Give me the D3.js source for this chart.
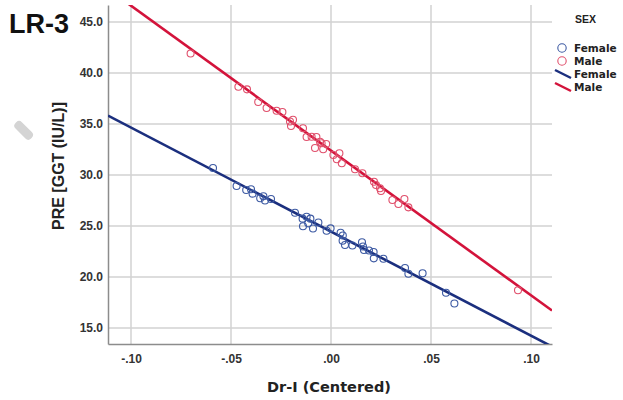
<!DOCTYPE html>
<html>
<head>
<meta charset="utf-8">
<script src="https://cdn.jsdelivr.net/npm/d3@7"></script>
<style>
  body { margin: 0; background: #fff; }
  svg { display: block; }
  .tick-label { font-family: "Liberation Sans", Arial, sans-serif; font-size: 12px; font-weight: bold; fill: #333; }
</style>
</head>
<body>
<svg width="623" height="400"></svg>
<script>
// tick values
var xTicks = [-0.10, -0.05, 0.00, 0.05, 0.10];
var yTicks = [15, 20, 25, 30, 35, 40, 45];

// Female points: [Dr-I centered, PRE GGT]
var femaleX = [-0.059, -0.0472, -0.0424, -0.040, -0.0392, -0.0354, -0.0338, -0.033, -0.030, -0.018,
               -0.0142, -0.0122, -0.0103, -0.014, -0.0114, -0.009, -0.0063, -0.0022, -0.0002, 0.0048,
               0.0059, 0.0058, 0.007, 0.0107, 0.0155, 0.016, 0.0165, 0.019, 0.0213, 0.0214,
               0.0262, 0.037, 0.0387, 0.0458, 0.0575, 0.0617];
var femaleY = [30.69, 28.92, 28.53, 28.60, 28.17, 27.72, 27.91, 27.50, 27.65, 26.30,
               25.72, 25.91, 25.72, 24.97, 25.26, 24.75, 25.34, 24.54, 24.77, 24.34,
               24.07, 23.56, 23.14, 23.09, 23.41, 22.99, 22.65, 22.60, 22.45, 21.83,
               21.79, 20.88, 20.32, 20.36, 18.46, 17.40];

// Male points
var maleX = [-0.0702, -0.0463, -0.042, -0.0364, -0.0322, -0.0272, -0.0243, -0.0205, -0.019, -0.020,
             -0.014, -0.0122, -0.0097, -0.0073, -0.0055, -0.008, -0.0047, -0.0024, -0.0039, 0.0012,
             0.0042, 0.0029, 0.0054, 0.012, 0.0157, 0.0215, 0.0225, 0.0245, 0.025, 0.0307,
             0.0337, 0.0367, 0.0387, 0.0935];
var maleY = [41.91, 38.66, 38.40, 37.16, 36.57, 36.30, 36.18, 35.25, 35.42, 34.80,
             34.58, 33.73, 33.75, 33.73, 33.26, 32.65, 33.11, 33.04, 32.52, 31.96,
             32.13, 31.54, 31.15, 30.56, 30.17, 29.34, 29.02, 28.70, 28.43, 27.55,
             27.16, 27.65, 26.83, 18.70];

// fit lines (intercept at x = 0, slope)
var femaleFit = [24.45, -102];
var maleFit = [32.4, -142];

var femaleLine = "#1b2f7e", maleLine = "#d3133b";
var femaleDot = "#3d5aa3", maleDot = "#e0506c";

var svg = d3.select("svg");
var pLeft = 108, pRight = 552, pTop = 5, pBottom = 344;

var x = d3.scaleLinear().domain([-0.1115, 0.1105]).range([pLeft, pRight]);
var y = d3.scaleLinear().domain([13.43, 46.67]).range([pBottom, pTop]);

svg.append("defs").append("clipPath").attr("id", "clip")
  .append("rect").attr("x", pLeft).attr("y", pTop).attr("width", pRight - pLeft).attr("height", pBottom - pTop);

// grid
var grid = svg.append("g");
grid.selectAll(".vg").data(xTicks).enter().append("line")
    .attr("x1", function(d) { return x(d); }).attr("x2", function(d) { return x(d); })
    .attr("y1", pTop).attr("y2", pBottom)
    .attr("stroke", "#d2d2d2").attr("stroke-width", 1.5);
grid.selectAll(".hg").data(yTicks).enter().append("line")
    .attr("x1", pLeft).attr("x2", pRight)
    .attr("y1", function(d) { return y(d); }).attr("y2", function(d) { return y(d); })
    .attr("stroke", "#d2d2d2").attr("stroke-width", 1.5);

// axes
var fmtX = function(d) { return d3.format(".2f")(d).replace("\u2212", "-").replace("0.", "."); };
var xAxis = d3.axisBottom(x).tickValues(xTicks).tickSize(0).tickPadding(10).tickFormat(fmtX);
var yAxis = d3.axisLeft(y).tickValues(yTicks).tickSize(0).tickPadding(5).tickFormat(d3.format(".1f"));

var gx = svg.append("g").attr("transform", "translate(0," + pBottom + ")").call(xAxis);
var gy = svg.append("g").attr("transform", "translate(" + pLeft + ",0)").call(yAxis);
[gx, gy].forEach(function(g) {
  g.select(".domain").attr("stroke", "#8c8c8c").attr("stroke-width", 1.5);
  g.selectAll("text").attr("class", "tick-label").attr("fill", "#333");
});

// fit lines
var plot = svg.append("g").attr("clip-path", "url(#clip)");
var lineGen = d3.line().x(function(d) { return x(d[0]); }).y(function(d) { return y(d[1]); });
[[femaleFit, femaleLine], [maleFit, maleLine]].forEach(function(f) {
  var pts = x.domain().map(function(v) { return [v, f[0][0] + f[0][1] * v]; });
  plot.append("path").datum(pts).attr("d", lineGen)
      .attr("fill", "none").attr("stroke", f[1]).attr("stroke-width", 2.6);
});

// points
function dots(xs, ys, col) {
  plot.selectAll(null).data(xs.map(function(v, i) { return [v, ys[i]]; })).enter().append("circle")
      .attr("cx", function(d) { return x(d[0]); })
      .attr("cy", function(d) { return y(d[1]); })
      .attr("r", 3.5).attr("fill", "none").attr("stroke", col).attr("stroke-width", 1.1);
}
dots(femaleX, femaleY, femaleDot);
dots(maleX, maleY, maleDot);

// titles
svg.append("text").attr("x", 9).attr("y", 33).text("LR-3")
   .style("font-family", "Liberation Sans, Arial, sans-serif").style("font-size", "27px").style("font-weight", "bold").attr("fill", "#111");
svg.append("text").attr("x", (pLeft + pRight) / 2 - 1).attr("y", 392).attr("text-anchor", "middle").text("Dr-I (Centered)")
   .style("font-family", "DejaVu Sans, sans-serif").style("font-size", "14.5px").style("font-weight", "bold").attr("fill", "#222");
svg.append("text").attr("transform", "translate(64,166) rotate(-90)").attr("text-anchor", "middle").text("PRE [GGT (IU/L)]")
   .style("font-family", "Liberation Sans, Arial, sans-serif").style("font-size", "16px").style("font-weight", "bold").attr("fill", "#222");

// stray hatched mark at left
svg.append("rect").attr("x", 13).attr("y", 126).attr("width", 22).attr("height", 9).attr("rx", 4)
   .attr("transform", "rotate(45,24,130)").attr("fill", "#d4d4d4");

// legend
var lg = svg.append("g").style("font-family", "DejaVu Sans, sans-serif").style("font-weight", "bold").attr("fill", "#222");
lg.append("text").attr("x", 575).attr("y", 23).text("SEX").style("font-size", "10.5px").style("font-family", "Liberation Sans, Arial, sans-serif");
var items = [["Female", femaleDot, "dot"], ["Male", maleDot, "dot"], ["Female", femaleLine, "line"], ["Male", maleLine, "line"]];
items.forEach(function(it, i) {
  var cy = 48 + i * 13;
  if (it[2] === "dot") {
    lg.append("circle").attr("cx", 562).attr("cy", cy).attr("r", 4.2).attr("fill", "none").attr("stroke", it[1]).attr("stroke-width", 1.1);
  } else {
    lg.append("line").attr("x1", 555).attr("y1", cy - 4).attr("x2", 571).attr("y2", cy + 4).attr("stroke", it[1]).attr("stroke-width", 2.4);
  }
  lg.append("text").attr("x", 574).attr("y", cy + 4).text(it[0]).style("font-size", "10.5px");
});
</script>
</body>
</html>
